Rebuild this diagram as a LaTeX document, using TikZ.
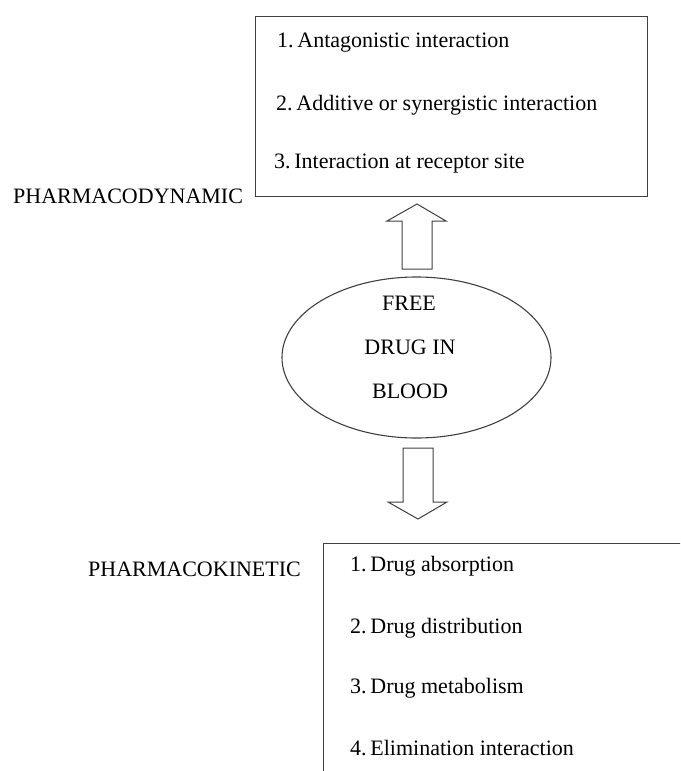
\documentclass[tikz,border=0pt]{standalone}
\usepackage{fontspec}
\setmainfont{Liberation Serif}
\usetikzlibrary{shapes.geometric}
\newcommand{\itemgap}{\hspace{0.17em}}
\begin{document}
\begin{tikzpicture}[x=1pt,y=-1pt,
  line/.style={draw=black!75, line width=1.1pt},
  txt/.style={anchor=base west, inner sep=0pt, font=\fontsize{22}{24}\selectfont\frenchspacing},
  ctxt/.style={anchor=base, inner sep=0pt, font=\fontsize{22}{24}\selectfont},
  blockarrow/.style={draw=black!75, line width=1pt, fill=white, line join=miter}]
\useasboundingbox (0,0) rectangle (680,771);
\clip (0,0) rectangle (680,771);
% top box
\node[line, rectangle, minimum width=392pt, minimum height=180pt, anchor=north west, inner sep=0pt] (pd) at (255,16) {};
\node[txt] (pd1) at (277,47) {1.\itemgap Antagonistic interaction};
\node[txt] (pd2) at (276,110) {2.\itemgap Additive or synergistic interaction};
\node[txt] (pd3) at (274,168) {3.\itemgap Interaction at receptor site};
\node[txt] (pdl) at (13,203) {PHARMACODYNAMIC};
% ellipse
\node[line, ellipse, minimum width=269pt, minimum height=161pt, inner sep=0pt] (blood) at (416.5,357.5) {};
\node[ctxt] (b1) at (409,310) {FREE};
\node[ctxt] (b2) at (410,354) {DRUG IN};
\node[ctxt] (b3) at (410,398) {BLOOD};
% up arrow
\draw[blockarrow] (402,269) -- (402,221) -- (387,221) -- (417,204) -- (446,221) -- (432,221) -- (432,269) -- cycle;
% down arrow
\draw[blockarrow] (403,448) -- (403,502) -- (388,502) -- (418,519) -- (447,502) -- (433,502) -- (433,448) -- cycle;
% bottom box (clipped)
\node[line, rectangle, minimum width=380pt, minimum height=260pt, anchor=north west, inner sep=0pt] (pk) at (323,543) {};
\node[txt] (pk1) at (350,571) {1.\itemgap Drug absorption};
\node[txt] (pk2) at (350,633) {2.\itemgap Drug distribution};
\node[txt] (pk3) at (350,693) {3.\itemgap Drug metabolism};
\node[txt] (pk4) at (350,755) {4.\itemgap Elimination interaction};
\node[txt] (pkl) at (88,576) {PHARMACOKINETIC};
\end{tikzpicture}
\end{document}
